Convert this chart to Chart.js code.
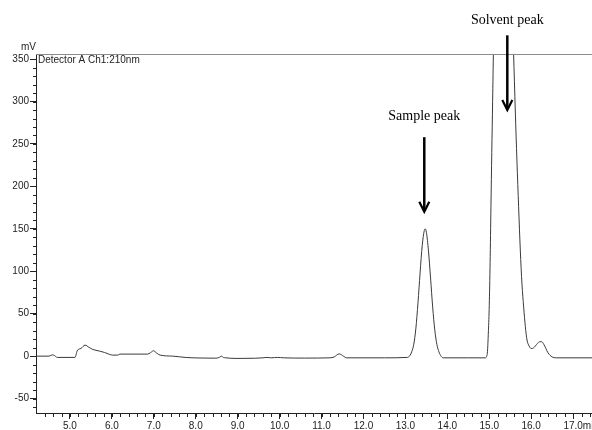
<!DOCTYPE html>
<html>
<head>
<meta charset="utf-8">
<script src="https://cdn.jsdelivr.net/npm/chart.js@4.4.1/dist/chart.umd.min.js"></script>
<style>
  html, body { margin: 0; padding: 0; background: #fff; }
  #wrap { width: 592px; height: 430px; position: relative; }
</style>
</head>
<body>
<div id="wrap"><canvas id="chrom"></canvas></div>
<script>
// retention time (min) and detector signal (mV)
const times = [
  4.19, 4.50, 4.58, 4.62, 4.70, 5.12, 5.17, 5.20, 5.26, 5.36, 5.45, 5.54, 5.70, 5.82, 5.92,
  6.02, 6.14, 6.19, 6.85, 6.92, 6.99, 7.07, 7.15, 7.45, 7.77, 8.10, 8.48, 8.56, 8.61, 8.66,
  8.72, 8.96, 9.40, 9.60, 9.70, 9.80, 9.95, 10.10, 10.60, 11.20, 11.30, 11.42, 11.52, 11.60,
  12.50, 13.05, 13.11, 13.15, 13.20, 13.25, 13.30, 13.35, 13.40, 13.45, 13.47, 13.50, 13.55,
  13.60, 13.65, 13.70, 13.75, 13.80, 13.85, 13.90, 14.50, 14.90, 14.95, 14.98, 15.00, 15.02,
  15.04, 15.06, 15.08, 15.10, 15.15, 15.25, 15.35, 15.45, 15.52, 15.58, 15.62, 15.66, 15.70,
  15.74, 15.78, 15.82, 15.86, 15.90, 15.95, 16.00, 16.05, 16.10, 16.15, 16.20, 16.25, 16.30,
  16.35, 16.40, 16.45, 16.50, 16.60, 17.45
];
const mv = [
  0, 0, 1.5, 1, -1.5, -1.5, 6, 8, 9, 13, 10.5, 8, 6, 4.4, 2.5,
  1.2, 1.2, 2.4, 2.4, 4, 6.3, 3.5, 1.2, 0, -1.6, -2.2, -2.4, -1.5, 0, -1.5,
  -2, -2.7, -2.5, -2, -1.5, -2, -1.5, -2, -2.3, -2, -1, 2.7, 0, -2,
  -2, -1.5, 1, 5, 14, 33, 63, 98, 130, 148, 150, 146, 124,
  92, 58, 31, 14, 5, 0, -2, -2, -2, 2, 30, 60, 110,
  176, 240, 300, 360, 450, 540, 570, 530, 440, 356, 290, 230, 176,
  125, 85, 58, 35, 19, 12, 9, 9.5, 12, 15, 17, 17, 14,
  9, 4, 1, -1, -2, -2
];

const xTicks = [5, 6, 7, 8, 9, 10, 11, 12, 13, 14, 15, 16, 17];
const yTicks = [-50, 0, 50, 100, 150, 200, 250, 300, 350];

// peak labels: text, retention time, signal level of label / arrow top / arrow tip
const peakNames = ["Solvent peak", "Sample peak"];
const peakTimes = [15.43, 13.45];
const peakLabelY = [396, 283];
const peakArrowTop = [378, 258];
const peakArrowTip = [290, 170];

const points = times.map((t, i) => ({ x: t, y: mv[i] }));

const extras = {
  id: "extras",
  afterDraw(chart) {
    const { ctx, chartArea: a, scales: { x, y } } = chart;
    ctx.save();
    // top frame line
    ctx.strokeStyle = "#8c8c8c";
    ctx.lineWidth = 1;
    ctx.beginPath();
    ctx.moveTo(a.left, a.top + 0.5);
    ctx.lineTo(a.right, a.top + 0.5);
    ctx.stroke();

    // minor ticks
    ctx.strokeStyle = "#222";
    ctx.beginPath();
    for (let v = 4.4; v < 17.45; v += 0.2) {
      const px = Math.round(x.getPixelForValue(v)) + 0.5;
      ctx.moveTo(px, a.bottom);
      ctx.lineTo(px, a.bottom + 4);
    }
    for (let v = -60; v <= 350; v += 10) {
      const py = Math.round(y.getPixelForValue(v)) + 0.5;
      ctx.moveTo(a.left, py);
      ctx.lineTo(a.left - 3, py);
    }
    ctx.stroke();

    // text
    ctx.fillStyle = "#222";
    ctx.font = "10px 'Liberation Sans', Arial";
    ctx.textBaseline = "middle";
    ctx.textAlign = "left";
    ctx.fillText("Detector A Ch1:210nm", a.left + 2, y.getPixelForValue(350) + 1);
    ctx.fillText("mV", 21, a.top - 7);
    const p17 = x.getPixelForValue(17);
    ctx.textBaseline = "top";
    ctx.fillText("min", p17 + ctx.measureText("17.0").width / 2, a.bottom + 8);

    // peak annotations
    ctx.fillStyle = "#000";
    ctx.strokeStyle = "#000";
    ctx.font = "14px 'Liberation Serif', 'Times New Roman'";
    ctx.textAlign = "center";
    ctx.textBaseline = "middle";
    peakNames.forEach((name, i) => {
      const px = x.getPixelForValue(peakTimes[i]);
      ctx.fillText(name, px, y.getPixelForValue(peakLabelY[i]));
      const top = y.getPixelForValue(peakArrowTop[i]);
      const tip = y.getPixelForValue(peakArrowTip[i]);
      ctx.lineWidth = 2.5;
      ctx.beginPath();
      ctx.moveTo(px, top);
      ctx.lineTo(px, tip - 1);
      ctx.stroke();
      ctx.lineWidth = 2.2;
      ctx.beginPath();
      ctx.moveTo(px - 5, tip - 10);
      ctx.lineTo(px, tip);
      ctx.lineTo(px + 5, tip - 10);
      ctx.stroke();
    });
    ctx.restore();
  }
};

new Chart(document.getElementById("chrom"), {
  type: "line",
  data: {
    datasets: [
      {
        data: points,
        borderColor: "#3a3a3a",
        borderWidth: 1,
        pointRadius: 0,
        cubicInterpolationMode: "monotone",
        fill: false,
      },
    ],
  },
  options: {
    responsive: true,
    maintainAspectRatio: false,
    animation: false,
    layout: { padding: { top: 54, left: 0, right: 0, bottom: 0 } },
    plugins: { legend: { display: false }, tooltip: { enabled: false } },
    scales: {
      x: {
        type: "linear",
        min: 4.19,
        max: 17.45,
        afterBuildTicks: (s) => { s.ticks = xTicks.map((v) => ({ value: v })); },
        afterFit: (s) => { s.height = 17; },
        ticks: {
          autoSkip: false,
          maxRotation: 0,
          padding: 1,
          color: "#222",
          font: { family: "'Liberation Sans', Arial", size: 10 },
          callback: (v) => v.toFixed(1),
        },
        grid: { drawOnChartArea: false, tickLength: 6, tickColor: "#222" },
        border: { color: "#222", width: 1 },
      },
      y: {
        min: -67,
        max: 356,
        afterBuildTicks: (s) => { s.ticks = yTicks.map((v) => ({ value: v })); },
        afterFit: (s) => { s.width = 36; },
        ticks: {
          autoSkip: false,
          padding: 1,
          color: "#222",
          font: { family: "'Liberation Sans', Arial", size: 10 },
        },
        grid: { drawOnChartArea: false, tickLength: 6, tickColor: "#222" },
        border: { color: "#222", width: 1 },
      },
    },
  },
  plugins: [extras],
});
</script>
</body>
</html>
